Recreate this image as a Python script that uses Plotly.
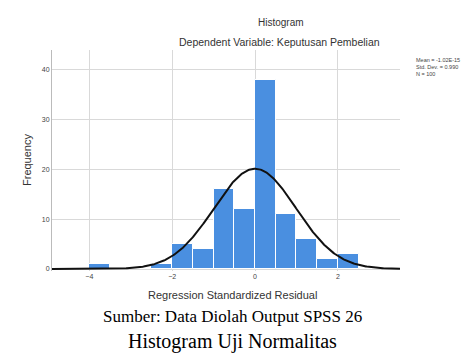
import numpy as np
import plotly.graph_objects as go

# Histogram bins (left edges, width 0.5) and frequencies
bin_left = [-4.0, -3.5, -3.0, -2.5, -2.0, -1.5, -1.0, -0.5, 0.0, 0.5, 1.0, 1.5, 2.0]
counts = [1, 0, 0, 1, 5, 4, 16, 12, 38, 11, 6, 2, 3]
bin_width = 0.5

# Summary statistics shown in the chart
mean_val = -1.02e-15
std_val = 0.990
n_val = 100

x_ticks = [-4, -2, 0, 2]
y_ticks = [0, 10, 20, 30, 40]

W, H = 464, 354
L, R, T, B = 52, 64, 50, 83
plot_h = H - T - B
plot_w = W - L - R


def py(p):
    return (H - B - p) / plot_h


def px(p):
    return (p - L) / plot_w


centers = [b + bin_width / 2 for b in bin_left]

xs = np.linspace(-4.9, 3.5, 400)
ys = n_val * bin_width / (std_val * np.sqrt(2 * np.pi)) * np.exp(-0.5 * ((xs - mean_val) / std_val) ** 2)

fig = go.Figure()
fig.add_trace(go.Bar(
    x=centers, y=counts, width=bin_width,
    marker=dict(color="#4A8FE0", line=dict(color="white", width=1)),
    showlegend=False,
))
fig.add_trace(go.Scatter(
    x=xs, y=ys, mode="lines",
    line=dict(color="#111111", width=2),
    showlegend=False,
))

ann = []
ann.append(dict(text="Histogram", x=px(281), y=py(22), xref="paper", yref="paper",
                showarrow=False, font=dict(size=10, color="#333", family="Arial"),
                xanchor="center", yanchor="middle"))
ann.append(dict(text="Dependent Variable: Keputusan Pembelian", x=px(279), y=py(42),
                xref="paper", yref="paper", showarrow=False,
                font=dict(size=10.5, color="#333", family="Arial"),
                xanchor="center", yanchor="middle"))
ann.append(dict(text="Regression Standardized Residual", x=px(232), y=py(295),
                xref="paper", yref="paper", showarrow=False,
                font=dict(size=11, color="#333", family="Arial"),
                xanchor="center", yanchor="middle"))
ann.append(dict(text="Frequency", x=px(27), y=py(160), xref="paper", yref="paper",
                showarrow=False, textangle=-90,
                font=dict(size=11, color="#333", family="Arial"),
                xanchor="center", yanchor="middle"))
ann.append(dict(text=f"Mean = {mean_val:.2E}<br>Std. Dev. = {std_val:.3f}<br>N = {n_val}",
                x=px(415), y=py(56), xref="paper", yref="paper", showarrow=False,
                align="left", font=dict(size=5.5, color="#444", family="Arial"),
                xanchor="left", yanchor="top", borderpad=0))
ann.append(dict(text="Sumber: Data Diolah Output SPSS 26", x=px(232), y=py(316),
                xref="paper", yref="paper", showarrow=False,
                font=dict(size=17, color="black", family="Liberation Serif"),
                xanchor="center", yanchor="middle"))
ann.append(dict(text="Histogram Uji Normalitas", x=px(232), y=py(341),
                xref="paper", yref="paper", showarrow=False,
                font=dict(size=20, color="black", family="Liberation Serif"),
                xanchor="center", yanchor="middle"))

fig.update_layout(
    width=W, height=H,
    margin=dict(l=L, r=R, t=T, b=B),
    paper_bgcolor="white", plot_bgcolor="white",
    bargap=0,
    annotations=ann,
    font=dict(family="Arial", size=7, color="#444"),
)
fig.update_xaxes(range=[-4.9, 3.5], tickvals=x_ticks, showgrid=True, gridcolor="#d9d9d9",
                 gridwidth=1, zeroline=False, showline=False, ticks="", tickfont=dict(size=7))
fig.update_yaxes(range=[-0.4, 44], tickvals=y_ticks, showgrid=True, gridcolor="#d9d9d9",
                 gridwidth=1, zeroline=False, showline=True, linecolor="#bbbbbb",
                 ticks="", tickfont=dict(size=7))

fig.write_html("out.html", config={"displayModeBar": False},
               post_script="document.body.style.margin='0';document.body.style.overflow='hidden';")
